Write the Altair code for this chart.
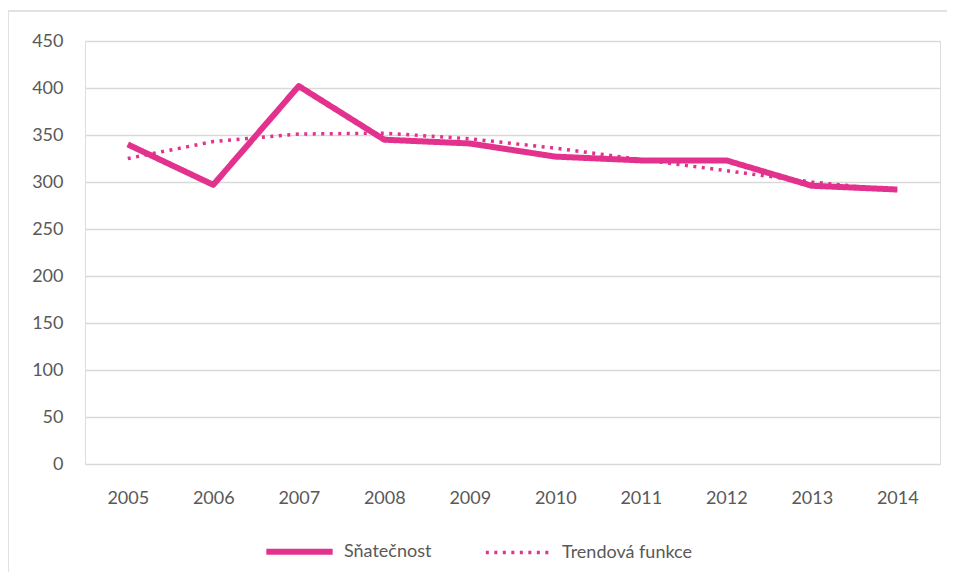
import altair as alt
import pandas as pd

years = ["2005", "2006", "2007", "2008", "2009", "2010", "2011", "2012", "2013", "2014"]
snatecnost = [340, 297, 402, 345, 341, 327, 323, 323, 296, 292]
trend = [325, 343, 351, 352, 346, 336, 324, 312, 300, 291]
series_names = ["Sňatečnost", "Trendová funkce"]

rows = []
for y, v in zip(years, snatecnost):
    rows.append({"rok": y, "hodnota": v, "serie": series_names[0]})
for y, v in zip(years, trend):
    rows.append({"rok": y, "hodnota": v, "serie": series_names[1]})
df = pd.DataFrame(rows)

PINK = "#E3318E"
FONT = "Lato"
GRAY = "#595959"

one = pd.DataFrame({"a": [0]})
frame_left = alt.Chart(one).mark_rule(color="#D9D9D9", strokeWidth=1.5).encode(
    x=alt.value(-77), y=alt.value(-30), y2=alt.value(600)
)
frame_top = alt.Chart(one).mark_rule(color="#D9D9D9", strokeWidth=1.5).encode(
    x=alt.value(-77), x2=alt.value(1000), y=alt.value(-30)
)

lines = alt.Chart(df).mark_line(strokeJoin="round").encode(
    x=alt.X("rok:O", sort=years,
            scale=alt.Scale(type="point", padding=0.5),
            axis=alt.Axis(title=None, labelAngle=0, ticks=False, domain=False,
                          labelPadding=25, labelFontSize=18, labelColor=GRAY,
                          labelFont=FONT)),
    y=alt.Y("hodnota:Q",
            scale=alt.Scale(domain=[0, 450], nice=False),
            axis=alt.Axis(title=None, values=list(range(0, 451, 50)), ticks=False,
                          domain=False, labelPadding=22, labelFontSize=18,
                          labelColor=GRAY, labelFont=FONT, gridColor="#D9D9D9",
                          gridWidth=1.3)),
    color=alt.Color("serie:N", sort=series_names,
                    scale=alt.Scale(domain=series_names, range=[PINK, PINK]),
                    legend=alt.Legend(title=None, orient="none", direction="horizontal",
                                      legendX=178, legendY=474,
                                      symbolType="stroke", symbolSize=4400,
                                      labelFontSize=18, labelColor=GRAY, labelFont=FONT,
                                      columnPadding=46, labelOffset=8,
                                      symbolStrokeWidth=5)),
    strokeDash=alt.StrokeDash("serie:N", sort=series_names,
                              scale=alt.Scale(domain=series_names,
                                              range=[[1, 0], [3, 5.5]]),
                              legend=None),
    strokeWidth=alt.StrokeWidth("serie:N", sort=series_names,
                                scale=alt.Scale(domain=series_names, range=[6, 3.5]),
                                legend=None),
    order=alt.Order("serie:N", sort="descending"),
)

chart = alt.layer(frame_left, frame_top, lines).properties(
    width=855, height=423,
    autosize=alt.AutoSizeParams(type="none"),
    padding={"left": 77, "top": 33, "right": 7, "bottom": 108},
).configure_view(stroke=None).configure(background="white")

chart.save("out.html", embed_options={"renderer": "svg", "actions": False})
